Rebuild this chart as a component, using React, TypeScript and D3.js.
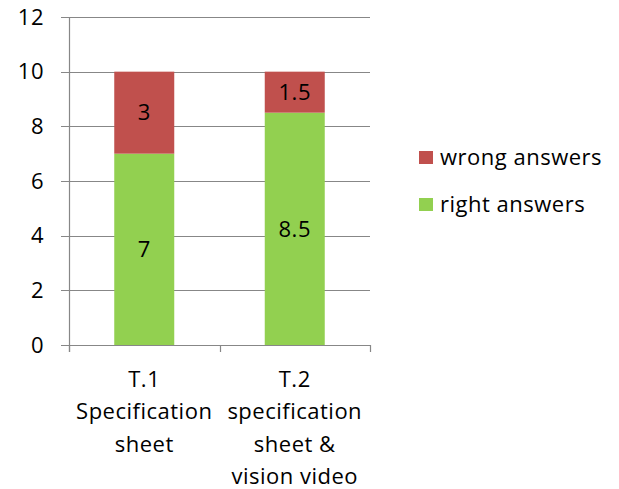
import React from "react";
import * as d3 from "d3";

const categories = ["T.1", "T.2"];
const categoryLines = [
  ["T.1", "Specification", "sheet"],
  ["T.2", "specification", "sheet &", "vision video"],
];
const rightAnswers = [7, 8.5];
const wrongAnswers = [3, 1.5];
const yTicks = [0, 2, 4, 6, 8, 10, 12];
const seriesNames = ["wrong answers", "right answers"];

const W = 619;
const H = 489;
const FONT = "'Open Sans', 'Liberation Sans', sans-serif";
const GRID = "#878787";
const RED = "#C0504D";
const GREEN = "#92D050";

export default function App() {
  const xOuter = d3.scaleBand<string>().domain(categories).range([69, 370]);
  const y = d3.scaleLinear().domain([0, 12]).range([345, 17]);

  const stackData = categories.map((c, i) => ({ cat: c, right: rightAnswers[i], wrong: wrongAnswers[i] }));
  const stack = d3.stack<any>().keys(["right", "wrong"])(stackData);
  const colors: Record<string, string> = { right: GREEN, wrong: RED };

  const bw = 60;
  const fs = 22;
  const ls = 0.5;

  return (
    <svg width={W} height={H} style={{ position: "absolute", left: 0, top: 0, fontFamily: FONT, letterSpacing: ls }}>
      <rect x={0} y={0} width={W} height={H} fill="#fff" />
      {/* gridlines and y ticks */}
      {yTicks.map((t) => (
        <g key={t}>
          <line x1={61} x2={370} y1={Math.round(y(t)) + 0.5} y2={Math.round(y(t)) + 0.5} stroke={GRID} strokeWidth={1.2} />
          <text x={44} y={y(t)} dy="0.35em" textAnchor="end" fontSize={fs} fill="#000">
            {t}
          </text>
        </g>
      ))}
      {/* y axis */}
      <line x1={69.5} x2={69.5} y1={17} y2={352} stroke={GRID} strokeWidth={1.2} />
      {/* x tick marks */}
      {[...categories.map((c) => xOuter(c)!), 370].map((p, i) => (
        <line key={i} x1={Math.round(p) + 0.5} x2={Math.round(p) + 0.5} y1={345} y2={352} stroke={GRID} strokeWidth={1.2} />
      ))}
      {/* stacked bars */}
      {stack.map((layer) =>
        layer.map((d, i) => {
          const cx = xOuter(categories[i])! + xOuter.bandwidth() / 2;
          const y0 = y(d[0]);
          const y1 = y(d[1]);
          const v = d[1] - d[0];
          return (
            <g key={layer.key + i}>
              <rect x={cx - bw / 2} y={y1} width={bw} height={y0 - y1} fill={colors[layer.key]} />
              <text x={cx} y={(y0 + y1) / 2} dy="0.35em" textAnchor="middle" fontSize={fs} fill="#000">
                {v}
              </text>
            </g>
          );
        })
      )}
      {/* category labels */}
      {categoryLines.map((lines, i) => {
        const cx = xOuter(categories[i])! + xOuter.bandwidth() / 2;
        return (
          <text key={i} textAnchor="middle" fontSize={fs} fill="#000">
            {lines.map((l, j) => (
              <tspan key={j} x={cx} y={387 + j * 32.3}>
                {l}
              </tspan>
            ))}
          </text>
        );
      })}
      {/* legend */}
      {seriesNames.map((n, i) => (
        <g key={n} transform={`translate(419, ${151 + i * 47})`}>
          <rect x={0} y={0} width={14} height={13} fill={i === 0 ? RED : GREEN} />
          <text x={21} y={6.5} dy="0.35em" fontSize={fs} fill="#000">
            {n}
          </text>
        </g>
      ))}
    </svg>
  );
}
